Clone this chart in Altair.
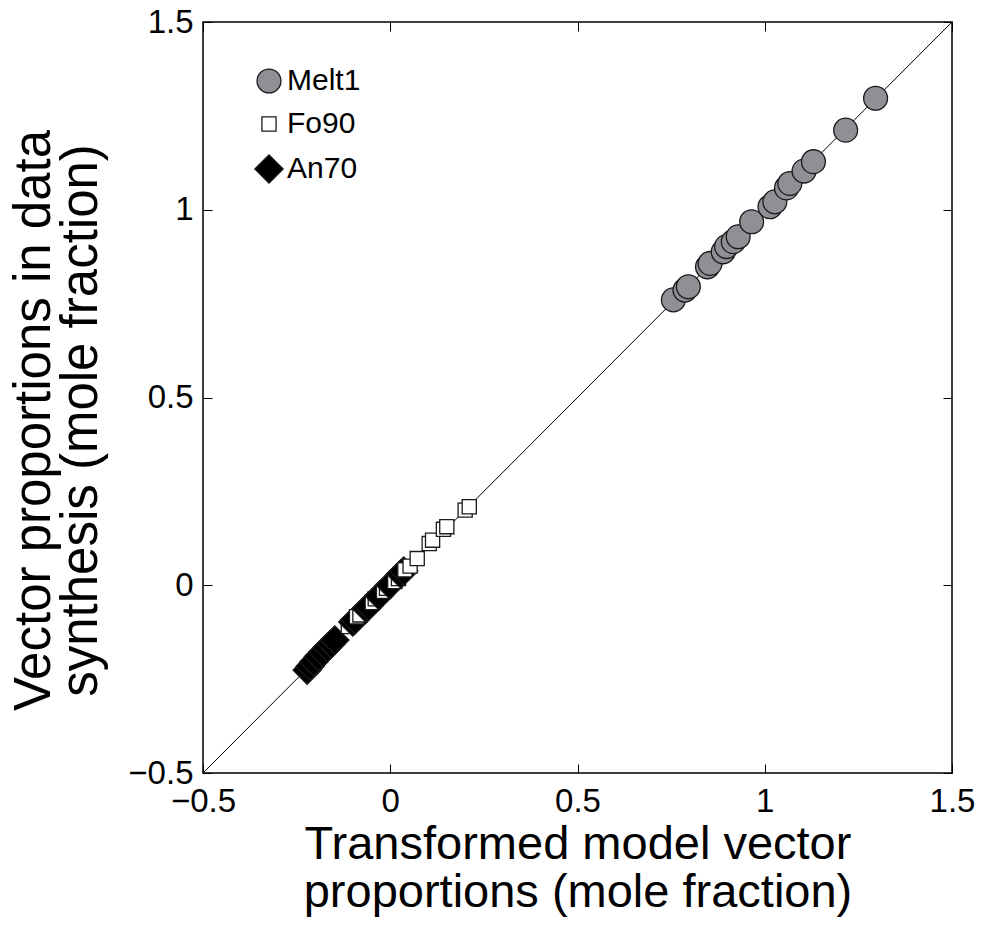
import altair as alt
import pandas as pd

SERIES = ["Melt1", "Fo90", "An70"]

MELT1_X = [0.756, 0.787, 0.796, 0.847, 0.854, 0.889, 0.898, 0.916, 0.929,
           0.965, 1.014, 1.027, 1.058, 1.067, 1.105, 1.130, 1.216, 1.296]
MELT1_Y = [0.760, 0.786, 0.795, 0.848, 0.857, 0.888, 0.902, 0.915, 0.928,
           0.968, 1.008, 1.021, 1.058, 1.070, 1.103, 1.128, 1.212, 1.297]

FO90_X = [-0.112, -0.090, -0.081, -0.048, -0.040, -0.018, -0.010, 0.012, 0.022,
          0.039, 0.053, 0.072, 0.104, 0.113, 0.142, 0.151, 0.200, 0.211]
FO90_Y = [-0.110, -0.084, -0.079, -0.046, -0.036, -0.016, -0.008, 0.010, 0.018,
          0.041, 0.051, 0.071, 0.111, 0.120, 0.149, 0.156, 0.200, 0.209]

AN70_X = [-0.222, -0.214, -0.204, -0.192, -0.180, -0.168, -0.158, -0.148,
          -0.100, -0.094, -0.064, -0.058, -0.030, -0.001, 0.028, 0.036]
AN70_Y = [-0.226, -0.216, -0.204, -0.190, -0.178, -0.166, -0.156, -0.146,
          -0.098, -0.092, -0.062, -0.056, -0.028, 0.001, 0.030, 0.038]

TICKS = [-0.5, 0, 0.5, 1, 1.5]
DIAG = [-0.5, 1.5]

FILLS = ["#8f9095", "#ffffff", "#000000"]
SHAPES = ["circle", "square", "diamond"]
SIZES = [570, 200, 800]

W, H = 749, 751
FONT = "Liberation Sans"

melt_rows = [{"x": a, "y": b, "series": "Melt1"} for a, b in zip(MELT1_X, MELT1_Y)]
low_rows = ([{"x": a, "y": b, "series": "Fo90"} for a, b in zip(FO90_X, FO90_Y)] +
            [{"x": a, "y": b, "series": "An70"} for a, b in zip(AN70_X, AN70_Y)])
# Fo90 and An70 were drawn sample by sample, so they overlap in position order
low_rows.sort(key=lambda r: r["x"])
df = pd.DataFrame(melt_rows + low_rows)
diag = pd.DataFrame({"x": DIAG, "y": DIAG})

sc = alt.Scale(domain=[-0.5, 1.5], nice=False, zero=False)

tick_common = dict(values=TICKS, labels=False, domain=False, grid=False, ticks=True,
                   tickSize=9, tickColor="black", tickWidth=1, title=None)

line = alt.Chart(diag).mark_line(color="black", strokeWidth=1).encode(
    x=alt.X("x:Q", scale=sc, axis=alt.Axis(
        orient="bottom", values=TICKS, format="~g", ticks=False, domain=False, grid=False,
        labelFontSize=33, labelPadding=12, labelColor="black", labelFont=FONT, labelFlush=False,
        labelOverlap=False,
        title=["Transformed model vector", "proportions (mole fraction)"],
        titleFontSize=47, titleFontWeight="normal", titleFont=FONT, titleColor="black",
        titlePadding=3, titleLineHeight=48)),
    y=alt.Y("y:Q", scale=sc, axis=alt.Axis(
        orient="left", values=TICKS, format="~g", ticks=False, domain=False, grid=False,
        labelFontSize=33, labelPadding=10, labelColor="black", labelFont=FONT, labelFlush=False,
        labelOverlap=False,
        title=["Vector proportions in data", "synthesis (mole fraction)"],
        titleFontSize=51, titleFontWeight="normal", titleFont=FONT, titleColor="black",
        titlePadding=20, titleLineHeight=47, titleY=398)),
)

ghost = alt.Chart(diag).mark_point(opacity=0).encode(
    x=alt.X("x:Q", scale=sc, axis=alt.Axis(orient="bottom", offset=-H, **tick_common)),
    y=alt.Y("y:Q", scale=sc, axis=alt.Axis(orient="left", offset=-W, **tick_common)),
)

leg = dict(title=None, orient="none", legendX=51, legendY=44)

points = alt.Chart(df).mark_point(filled=True, opacity=1, stroke="#1a1a1a", strokeWidth=1.3).encode(
    x=alt.X("x:Q", scale=sc, axis=alt.Axis(orient="top", offset=-H, **tick_common)),
    y=alt.Y("y:Q", scale=sc, axis=alt.Axis(orient="right", offset=-W, **tick_common)),
    fill=alt.Fill("series:N", scale=alt.Scale(domain=SERIES, range=FILLS), legend=alt.Legend(
        labelFontSize=30, labelFont=FONT, labelColor="black", rowPadding=13, labelOffset=3,
        symbolStrokeColor="#1a1a1a", symbolStrokeWidth=1.3, symbolOpacity=1, **leg)),
    shape=alt.Shape("series:N", scale=alt.Scale(domain=SERIES, range=SHAPES), legend=alt.Legend(**leg)),
    size=alt.Size("series:N", scale=alt.Scale(type="ordinal", domain=SERIES, range=SIZES),
                  legend=alt.Legend(**leg)),
)

chart = alt.layer(line, ghost, points).resolve_axis(x="independent", y="independent").properties(
    width=W, height=H,
    padding={"left": 203, "top": 22, "right": 33, "bottom": 152},
    autosize=alt.AutoSizeParams(type="none"),
    background="white",
).configure_view(stroke="black", strokeWidth=1.5)

chart.save("out.html", embed_options={"renderer": "svg", "actions": False})
